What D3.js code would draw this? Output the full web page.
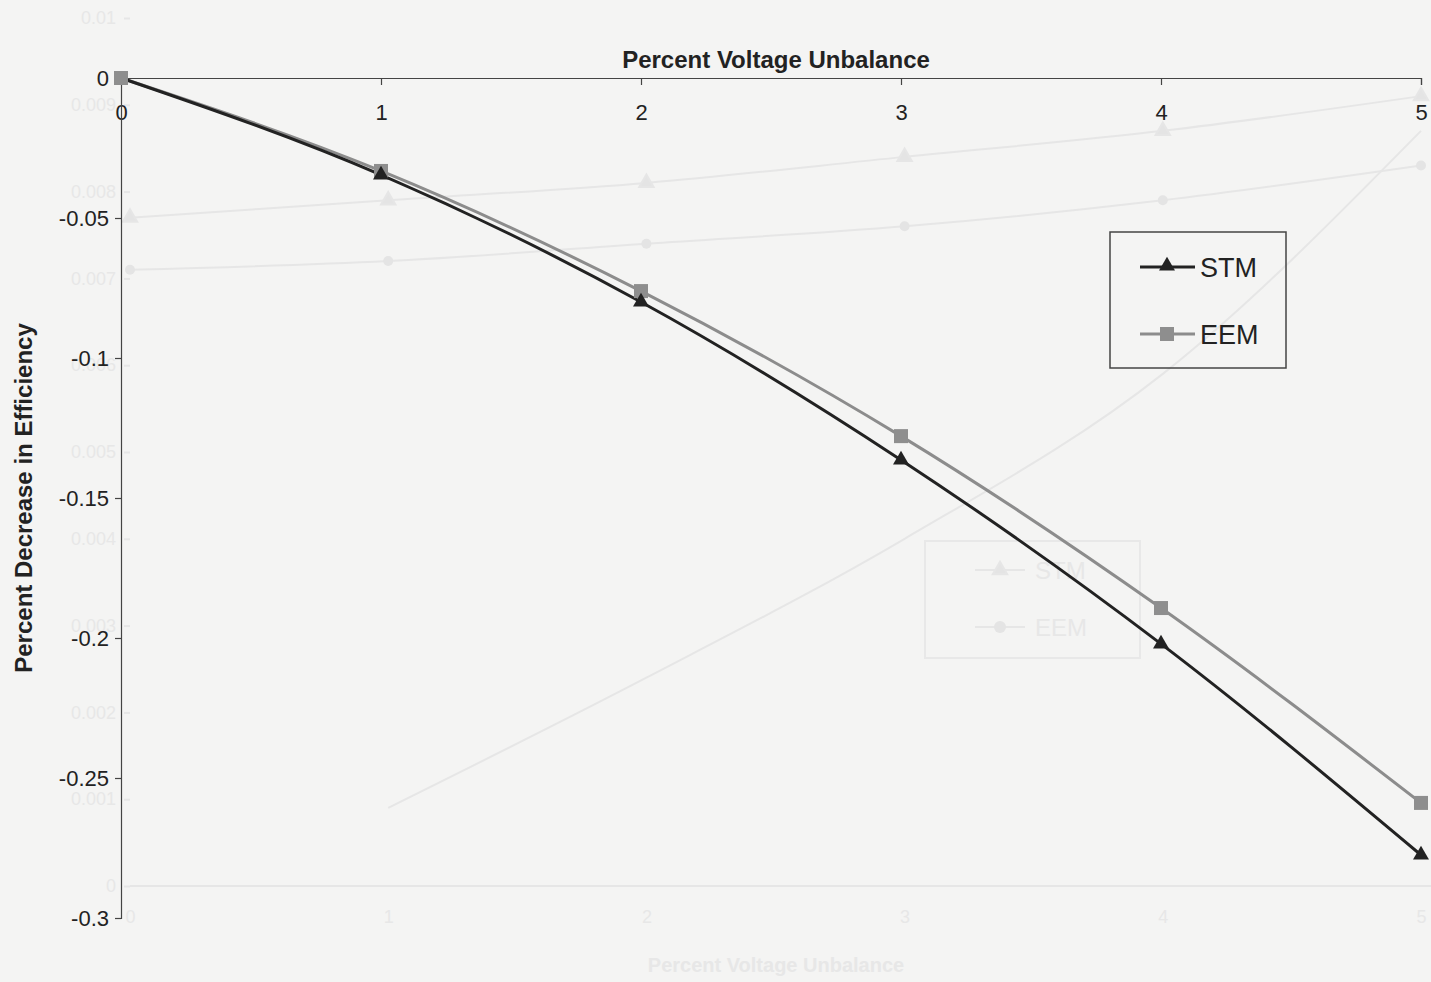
<!DOCTYPE html>
<html lang="en">
<head>
<meta charset="UTF-8"/>
<title>Percent Decrease in Efficiency vs Percent Voltage Unbalance</title>
<script src="https://d3js.org/d3.v7.min.js"></script>
<style>
  body { margin: 0; background: #f4f4f3; font-family: 'Liberation Sans', Arial, sans-serif; }
  svg { display: block; }
  .axis path, .axis line { stroke: #444; stroke-width: 1.2; }
  .axis text { font-size: 22px; fill: #222; font-family: 'Liberation Sans', Arial, sans-serif; }
  .ghost path, .ghost line { stroke: #e6e6e6; stroke-width: 2; }
  .ghost text { font-size: 18px; fill: #e7e7e7; font-family: 'Liberation Sans', Arial, sans-serif; }
  text.title { font-size: 24px; font-weight: bold; fill: #222; }
  text.legend { font-size: 27px; fill: #222; }
</style>
</head>
<body>
<svg width="1431" height="982"></svg>
<script>
// main chart data
const unbalance = [0, 1, 2, 3, 4, 5];
const stm = [0, -0.0346, -0.0800, -0.1364, -0.2021, -0.2775];
const eem = [0, -0.0332, -0.0761, -0.1279, -0.1893, -0.2589];
const yTicks = [0, -0.05, -0.1, -0.15, -0.2, -0.25, -0.3];

// faint page showing through the scan
const ghostStm = [0.0077, 0.0079, 0.0081, 0.0084, 0.0087, 0.0091];
const ghostEem = [0.0071, 0.0072, 0.0074, 0.0076, 0.0079, 0.0083];
const ghostThird = [null, 0.0009, 0.0024, 0.0040, 0.0059, 0.0087];
const ghostTicks = [0, 0.001, 0.002, 0.003, 0.004, 0.005, 0.006, 0.007, 0.008, 0.009, 0.01];

const svg = d3.select('svg');

// ---------- ghost layer ----------
const gx = d3.scaleLinear().domain([0, 5]).range([130, 1421]);
const gy = d3.scaleLinear().domain([0, 0.01]).range([886, 18]);
const ghost = svg.append('g').attr('class', 'ghost');

ghost.append('g')
  .attr('transform', 'translate(0,886)')
  .call(d3.axisBottom(gx).tickValues(unbalance).tickFormat(d3.format('d')).tickSize(0).tickPadding(24))
  .call(g => g.select('.domain').attr('d', 'M130,0H1431'));

ghost.append('g')
  .attr('transform', 'translate(130,0)')
  .call(d3.axisLeft(gy).tickValues(ghostTicks).tickFormat(d => d === 0 ? '0' : d3.format('.3~f')(d)).tickSize(6).tickPadding(8))
  .call(g => g.select('.domain').remove());

ghost.append('text')
  .attr('x', 776).attr('y', 972)
  .attr('text-anchor', 'middle')
  .style('font-weight', 'bold').style('font-size', '20px')
  .text('Percent Voltage Unbalance');

const gLine = d3.line()
  .defined(d => d[1] !== null)
  .x(d => gx(d[0])).y(d => gy(d[1]))
  .curve(d3.curveMonotoneX);

[ghostStm, ghostEem, ghostThird].forEach(s => {
  ghost.append('path')
    .datum(unbalance.map((u, i) => [u, s[i]]))
    .attr('d', gLine)
    .attr('fill', 'none').attr('stroke', '#e6e6e6').attr('stroke-width', 2.5);
});
ghost.selectAll('.gtri')
  .data(unbalance.map((u, i) => [u, ghostStm[i]]))
  .join('path')
  .attr('transform', d => `translate(${gx(d[0])},${gy(d[1])})`)
  .attr('d', d3.symbol(d3.symbolTriangle, 90))
  .attr('fill', '#e4e4e4');
ghost.selectAll('.gcir')
  .data(unbalance.map((u, i) => [u, ghostEem[i]]))
  .join('circle')
  .attr('cx', d => gx(d[0])).attr('cy', d => gy(d[1])).attr('r', 5)
  .attr('fill', '#e4e4e4');

ghost.append('rect')
  .attr('x', 925).attr('y', 541).attr('width', 215).attr('height', 117)
  .attr('fill', 'none').attr('stroke', '#e8e8e8').attr('stroke-width', 2);
ghost.append('line').attr('x1', 975).attr('x2', 1025).attr('y1', 570).attr('y2', 570);
ghost.append('line').attr('x1', 975).attr('x2', 1025).attr('y1', 627).attr('y2', 627);
ghost.append('path').attr('transform', 'translate(1000,570)').attr('d', d3.symbol(d3.symbolTriangle, 90)).attr('fill', '#e4e4e4');
ghost.append('circle').attr('cx', 1000).attr('cy', 627).attr('r', 6).attr('fill', '#e4e4e4');
ghost.append('text').attr('x', 1035).attr('y', 579).style('font-size', '24px').text('STM');
ghost.append('text').attr('x', 1035).attr('y', 636).style('font-size', '24px').text('EEM');

// ---------- main chart ----------
const x = d3.scaleLinear().domain([0, 5]).range([121, 1421]);
const y = d3.scaleLinear().domain([0, -0.3]).range([78, 918]);

svg.append('g')
  .attr('class', 'axis')
  .attr('transform', `translate(0,${y(0)})`)
  .call(d3.axisBottom(x).tickValues(unbalance).tickFormat(d3.format('d')).tickSizeOuter(0).tickSize(7).tickPadding(19));

svg.append('g')
  .attr('class', 'axis')
  .attr('transform', `translate(${x(0)},0)`)
  .call(d3.axisLeft(y).tickValues(yTicks).tickFormat(d => d === 0 ? '0' : String(d)).tickSizeOuter(0).tickSize(6).tickPadding(6));

svg.append('text')
  .attr('class', 'title')
  .attr('x', 776).attr('y', 68)
  .attr('text-anchor', 'middle')
  .text('Percent Voltage Unbalance');

svg.append('text')
  .attr('class', 'title')
  .attr('transform', 'translate(32,498) rotate(-90)')
  .attr('text-anchor', 'middle')
  .text('Percent Decrease in Efficiency');

const line = d3.line()
  .x(d => x(d[0])).y(d => y(d[1]))
  .curve(d3.curveMonotoneX);

const stmPts = unbalance.map((u, i) => [u, stm[i]]);
const eemPts = unbalance.map((u, i) => [u, eem[i]]);

svg.append('path').datum(eemPts).attr('d', line)
  .attr('fill', 'none').attr('stroke', '#8c8c8c').attr('stroke-width', 3);
svg.append('path').datum(stmPts).attr('d', line)
  .attr('fill', 'none').attr('stroke', '#222').attr('stroke-width', 3);

svg.selectAll('.sq')
  .data(eemPts)
  .join('rect')
  .attr('x', d => x(d[0]) - 7).attr('y', d => y(d[1]) - 7)
  .attr('width', 14).attr('height', 14)
  .attr('fill', '#8e8e8e');

svg.selectAll('.tri')
  .data(stmPts.slice(1))
  .join('path')
  .attr('transform', d => `translate(${x(d[0])},${y(d[1])})`)
  .attr('d', d3.symbol(d3.symbolTriangle, 110))
  .attr('fill', '#222');

// legend
const lg = svg.append('g');
lg.append('rect')
  .attr('x', 1110).attr('y', 232).attr('width', 176).attr('height', 136)
  .attr('fill', 'none').attr('stroke', '#444').attr('stroke-width', 1.5);
lg.append('line').attr('x1', 1140).attr('x2', 1195).attr('y1', 267).attr('y2', 267)
  .attr('stroke', '#222').attr('stroke-width', 3);
lg.append('path').attr('transform', 'translate(1167,266)')
  .attr('d', d3.symbol(d3.symbolTriangle, 110)).attr('fill', '#222');
lg.append('text').attr('class', 'legend').attr('x', 1200).attr('y', 277).text('STM');
lg.append('line').attr('x1', 1140).attr('x2', 1195).attr('y1', 334).attr('y2', 334)
  .attr('stroke', '#8c8c8c').attr('stroke-width', 3);
lg.append('rect').attr('x', 1160).attr('y', 327).attr('width', 14).attr('height', 14).attr('fill', '#8e8e8e');
lg.append('text').attr('class', 'legend').attr('x', 1200).attr('y', 344).text('EEM');
</script>
</body>
</html>
